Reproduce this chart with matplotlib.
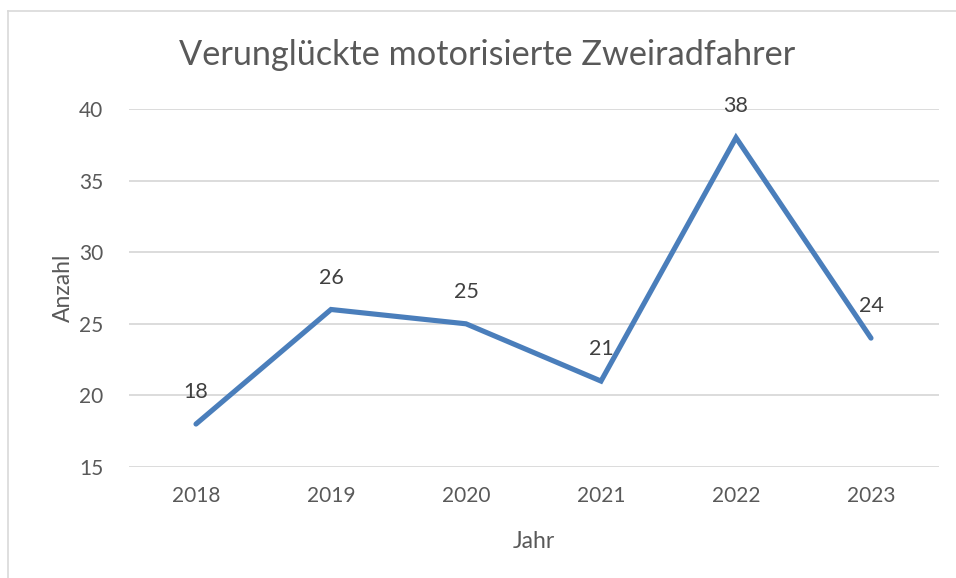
import matplotlib.pyplot as plt
from matplotlib.lines import Line2D

# Daten
jahre = ["2018", "2019", "2020", "2021", "2022", "2023"]
anzahl = [18, 26, 25, 21, 38, 24]
y_ticks = [15, 20, 25, 30, 35, 40]

TEXT = "#595959"
GRID = "#D9D9D9"
BLUE = "#4A7EBB"

plt.rcParams['font.family'] = ['Lato', 'DejaVu Sans']

W, H = 956, 578
fig = plt.figure(figsize=(W / 100, H / 100), dpi=100)
ax = fig.add_axes([128.5 / W, 1 - 467 / H, 810 / W, 358 / H])

x = list(range(len(jahre)))
ax.plot(x, anzahl, color=BLUE, linewidth=3.7, solid_capstyle='round', solid_joinstyle='miter', zorder=3)

for xi, v in zip(x, anzahl):
    ax.annotate(str(v), (xi, v), xytext=(0, 23), textcoords='offset points',
                ha='center', va='center', fontsize=15.5, color="#404040")

ax.set_xlim(-0.5, len(jahre) - 0.5)
ax.set_ylim(15, 40)
ax.set_yticks(y_ticks)
ax.set_xticks(x)
ax.set_xticklabels(jahre)
ax.tick_params(axis='both', length=0, labelsize=15, labelcolor=TEXT)
ax.tick_params(axis='y', pad=18)
ax.tick_params(axis='x', pad=14)
ax.grid(axis='y', color=GRID, linewidth=1.3)
ax.set_axisbelow(True)
for s in ax.spines.values():
    s.set_visible(False)

ax.set_xlabel("Jahr", fontsize=16.5, color=TEXT, labelpad=18)
ax.set_ylabel("Anzahl", fontsize=16.5, color=TEXT, labelpad=4)

fig.text(487 / W, 1 - 55 / H, "Verunglückte motorisierte Zweiradfahrer",
         ha='center', va='center', fontsize=24.7, color=TEXT)

# Rahmen des Diagramms
fig.add_artist(Line2D([7.5 / W, 7.5 / W], [0, 1 - 10.5 / H], color=GRID, linewidth=1.2))
fig.add_artist(Line2D([7.5 / W, 1], [1 - 10.5 / H, 1 - 10.5 / H], color=GRID, linewidth=1.2))

fig.savefig("out.png", dpi=100)
